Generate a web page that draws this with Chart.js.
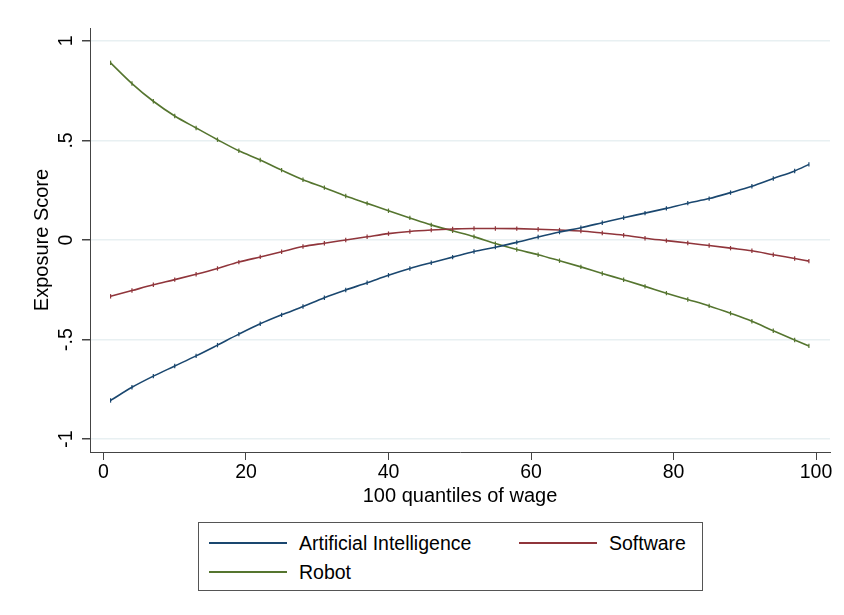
<!DOCTYPE html>
<html>
<head>
<meta charset="utf-8">
<script src="https://cdn.jsdelivr.net/npm/chart.js@4/dist/chart.umd.min.js"></script>
<style>
  body { margin: 0; background: #fff; font-family: "Liberation Sans", Arial, sans-serif; }
  #wrap { position: relative; width: 844px; height: 615px; }
  #legend { position: absolute; left: 198px; top: 522px; width: 503px; height: 67px;
            border: 1.5px solid #555; background: #fff; }
  .item { position: absolute; font-size: 19.5px; color: #000; line-height: 22px; }
  .swatch { position: absolute; width: 78px; height: 2px; }
</style>
</head>
<body>
<div id="wrap">
  <canvas id="chart" width="844" height="615"></canvas>
  <div id="legend"></div>
</div>
<script>
const quantiles = [1, 4, 7, 10, 13, 16, 19, 22, 25, 28, 31, 34, 37, 40, 43, 46, 49,
  52, 55, 58, 61, 64, 67, 70, 73, 76, 79, 82, 85, 88, 91, 94, 97, 99];

const aiScore = [-0.806, -0.740, -0.684, -0.633, -0.582, -0.528, -0.473, -0.421, -0.376,
  -0.334, -0.290, -0.251, -0.215, -0.177, -0.143, -0.114, -0.086, -0.058, -0.036, -0.012,
  0.015, 0.040, 0.062, 0.087, 0.112, 0.135, 0.159, 0.185, 0.208, 0.238, 0.270, 0.309,
  0.347, 0.380];

const softwareScore = [-0.283, -0.254, -0.225, -0.199, -0.172, -0.143, -0.111, -0.085,
  -0.059, -0.033, -0.016, 0.000, 0.016, 0.032, 0.043, 0.050, 0.055, 0.058, 0.058, 0.057,
  0.054, 0.050, 0.045, 0.035, 0.024, 0.009, -0.003, -0.015, -0.028, -0.041, -0.054,
  -0.074, -0.093, -0.106];

const robotScore = [0.890, 0.786, 0.697, 0.623, 0.563, 0.504, 0.448, 0.402, 0.351, 0.303,
  0.263, 0.221, 0.184, 0.147, 0.111, 0.076, 0.046, 0.017, -0.018, -0.048, -0.074, -0.104,
  -0.135, -0.168, -0.200, -0.233, -0.267, -0.299, -0.331, -0.368, -0.408, -0.456, -0.502,
  -0.532];

const seriesNames = ['Artificial Intelligence', 'Software', 'Robot'];
const seriesColors = ['#1a476f', '#90353b', '#55752f'];

const xTicks = [0, 20, 40, 60, 80, 100];
const yTicks = [-1, -0.5, 0, 0.5, 1];

const fontFamily = '"Liberation Sans", Arial, sans-serif';

function yLabel(v) {
  return String(v).replace('0.', '.');
}

function makeSet(i, values) {
  return {
    label: seriesNames[i],
    data: quantiles.map((q, k) => ({x: q, y: values[k]})),
    borderColor: seriesColors[i],
    backgroundColor: seriesColors[i],
    borderWidth: 1.6,
    pointStyle: 'line',
    rotation: 90,
    pointRadius: 2.2,
    pointBorderWidth: 1.2,
    cubicInterpolationMode: 'monotone'
  };
}

// rotated y tick labels, placed from the y scale
const yTickLabels = {
  id: 'yTickLabels',
  afterDraw(chart) {
    const c = chart.ctx;
    const s = chart.scales.y;
    c.save();
    c.fillStyle = '#000';
    c.font = '19.5px ' + fontFamily;
    c.textAlign = 'center';
    c.textBaseline = 'middle';
    yTicks.forEach(v => {
      c.save();
      c.translate(67, s.getPixelForValue(v));
      c.rotate(-Math.PI / 2);
      c.fillText(yLabel(v), 0, 0);
      c.restore();
    });
    c.restore();
  }
};

const axisColor = '#444';
const ctx = document.getElementById('chart').getContext('2d');
new Chart(ctx, {
  type: 'line',
  data: {
    datasets: [makeSet(0, aiScore), makeSet(1, softwareScore), makeSet(2, robotScore)]
  },
  options: {
    responsive: false,
    animation: false,
    layout: { padding: { top: 28, right: 14, bottom: 103, left: 0 } },
    plugins: { legend: { display: false }, tooltip: { enabled: false } },
    scales: {
      x: {
        type: 'linear',
        min: -1.89,
        max: 101.96,
        afterBuildTicks: s => { s.ticks = xTicks.map(v => ({value: v})); },
        afterFit: s => { s.height = 60; },
        border: { display: true, color: axisColor, width: 1 },
        grid: { drawOnChartArea: false, drawTicks: true, tickLength: 8, tickColor: axisColor },
        ticks: { color: '#000', padding: 1, maxRotation: 0,
                 font: { family: fontFamily, size: 19.5 } },
        title: { display: true, text: '100 quantiles of wage', color: '#000',
                 padding: { top: 0, bottom: 4 },
                 font: { family: fontFamily, size: 20 } }
      },
      y: {
        type: 'linear',
        min: -1.065,
        max: 1.065,
        afterBuildTicks: s => { s.ticks = yTicks.map(v => ({value: v})); },
        afterFit: s => { s.width = 90; },
        border: { display: true, color: axisColor, width: 1 },
        grid: { color: '#e8f0f2', lineWidth: 1.5, tickLength: 8, tickColor: axisColor },
        ticks: { display: false },
        title: { display: true, text: 'Exposure Score', color: '#000',
                 padding: { top: 30, bottom: 0 },
                 font: { family: fontFamily, size: 20 } }
      }
    }
  },
  plugins: [yTickLabels]
});

// legend box below the plot
const legend = document.getElementById('legend');
const spots = [[10, 19], [320, 19], [10, 48]];
seriesNames.forEach((name, i) => {
  const sw = document.createElement('div');
  sw.className = 'swatch';
  sw.style.background = seriesColors[i];
  sw.style.left = spots[i][0] + 'px';
  sw.style.top = spots[i][1] + 'px';
  legend.appendChild(sw);
  const t = document.createElement('div');
  t.className = 'item';
  t.textContent = name;
  t.style.left = (spots[i][0] + 90) + 'px';
  t.style.top = (spots[i][1] - 10) + 'px';
  legend.appendChild(t);
});
</script>
</body>
</html>
